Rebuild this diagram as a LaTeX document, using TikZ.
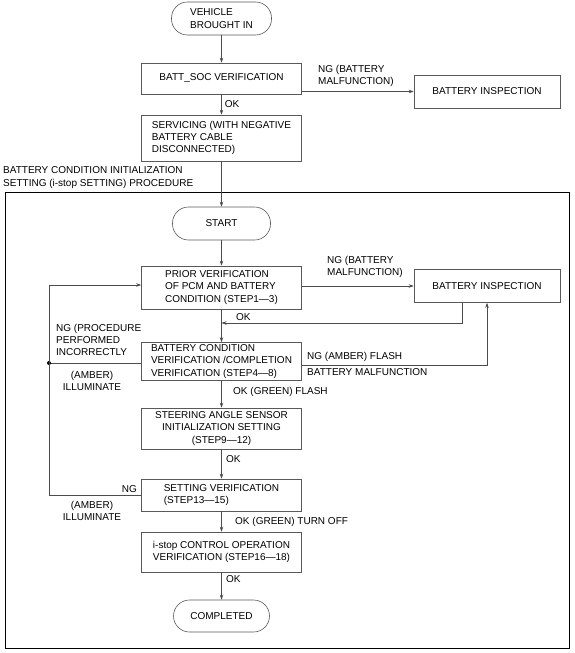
\documentclass[tikz,border=0pt]{standalone}
\usepackage{fontspec}
\setmainfont{Liberation Sans}
\usetikzlibrary{arrows.meta}
\begin{document}
\begin{tikzpicture}[x=1pt,y=-1pt,
  font=\fontsize{10}{12.2}\selectfont,
  box/.style={draw=black!65, line width=0.6pt, align=left, inner sep=0pt, minimum width=160pt},
  pill/.style={draw=black!65, line width=0.6pt, rounded corners=16pt, align=left, inner sep=0pt},
  conn/.style={draw=black!70, line width=0.6pt},
  arr/.style={conn, -{Stealth[length=5pt,width=3.5pt]}},
  lbl/.style={inner sep=0pt, align=left}]
\useasboundingbox (0,0) rectangle (574,653);

% upper part
\node[pill, minimum width=100pt, minimum height=33pt] (vbi) at (221.5,18.5) {VEHICLE\\BROUGHT IN};
\node[box, minimum height=31pt] (batt) at (221.5,78.5) {BATT\_SOC VERIFICATION};
\node[box, minimum width=146pt, minimum height=33pt] (bi1) at (487,91.5) {BATTERY INSPECTION};
\node[box, minimum height=46pt] (serv) at (221.5,138) {SERVICING (WITH NEGATIVE\\BATTERY CABLE\\DISCONNECTED)};
\node[lbl, anchor=west] (title) at (3,177.5) {BATTERY CONDITION INITIALIZATION\\SETTING (i-stop SETTING) PROCEDURE};

% frame
\node[draw=black, line width=0.9pt, minimum width=564pt, minimum height=456pt, inner sep=0pt] (frame) at (287,420) {};

% inner flow
\node[pill, minimum width=98pt, minimum height=33pt] (start) at (221.5,223.5) {START};
\node[box, minimum height=43pt] (prior) at (221.5,287.5) {PRIOR VERIFICATION\\OF PCM AND BATTERY\\CONDITION (STEP1---3)};
\node[box, minimum width=146pt, minimum height=33pt] (bi2) at (487,286) {BATTERY INSPECTION};
\node[box, minimum height=38pt] (bcond) at (221.5,361.5) {BATTERY CONDITION\\VERIFICATION /COMPLETION\\VERIFICATION (STEP4---8)};
\node[box, align=center, minimum height=41pt] (steer) at (221.5,428.5) {STEERING ANGLE SENSOR\\INITIALIZATION SETTING\\(STEP9---12)};
\node[box, minimum height=32pt] (setv) at (221.5,495) {SETTING VERIFICATION\\(STEP13---15)};
\node[box, minimum height=40pt] (istop) at (221.5,552) {i-stop CONTROL OPERATION\\VERIFICATION (STEP16---18)};
\node[pill, minimum width=96pt, minimum height=32pt] (comp) at (221.5,616) {COMPLETED};

% connectors upper
\draw[arr] (vbi) -- (batt);
\draw[arr] (batt) -- node[lbl, anchor=west, xshift=3pt] (ok1) {OK} (serv);
\draw[arr] (batt.east |- bi1.west) -- (bi1.west);
\node[lbl, anchor=west] (ng1) at (318,76) {NG (BATTERY\\MALFUNCTION)};
\draw[arr] (serv) -- (start);

% connectors inner
\draw[arr] (start) -- (prior);
\draw[arr] (prior.east |- bi2.west) -- (bi2.west);
\node[lbl, anchor=west] (ng2) at (327,267) {NG (BATTERY\\MALFUNCTION)};
\draw[arr] (prior) -- (bcond);

\coordinate (okc) at (462,323);
\draw[arr] (bi2.south -| okc) -- (okc) -- (okc -| prior.south);
\node[lbl, anchor=west] (ok2) at (236,317) {OK};

\coordinate (ngf) at (487,365);
\draw[arr] (bcond.east |- ngf) -- (ngf) -- (bi2.south);
\node[lbl, anchor=west] (ngfl) at (307,357) {NG (AMBER) FLASH};
\node[lbl, anchor=west] (bml) at (307,372) {BATTERY MALFUNCTION};

\coordinate (dot) at (49,363);
\draw[conn] (bcond.west |- dot) -- (dot);
\fill[black] (dot) circle (2pt);
\coordinate (lb) at (49,495);
\coordinate (lt) at (49,285);
\draw[arr] (setv.west) -- (lb) -- (lt) -- (prior.west |- lt);

\node[lbl, anchor=west] (ngp) at (56,340) {NG (PROCEDURE\\PERFORMED\\INCORRECTLY};
\node[lbl, align=center] (amb1) at (92,381) {(AMBER)\\ILLUMINATE};
\node[lbl, anchor=east] (ng3) at (137,489) {NG};
\node[lbl, align=center] (amb2) at (92,511) {(AMBER)\\ILLUMINATE};

\draw[arr] (bcond) -- (steer);
\node[lbl, anchor=west] (okgf) at (233,392) {OK (GREEN) FLASH};
\draw[arr] (steer) -- (setv);
\node[lbl, anchor=west] (ok3) at (226,459) {OK};
\draw[arr] (setv) -- (istop);
\node[lbl, anchor=west] (okgt) at (235,522) {OK (GREEN) TURN OFF};
\draw[arr] (istop) -- (comp);
\node[lbl, anchor=west] (ok4) at (226,579) {OK};
\end{tikzpicture}
\end{document}
